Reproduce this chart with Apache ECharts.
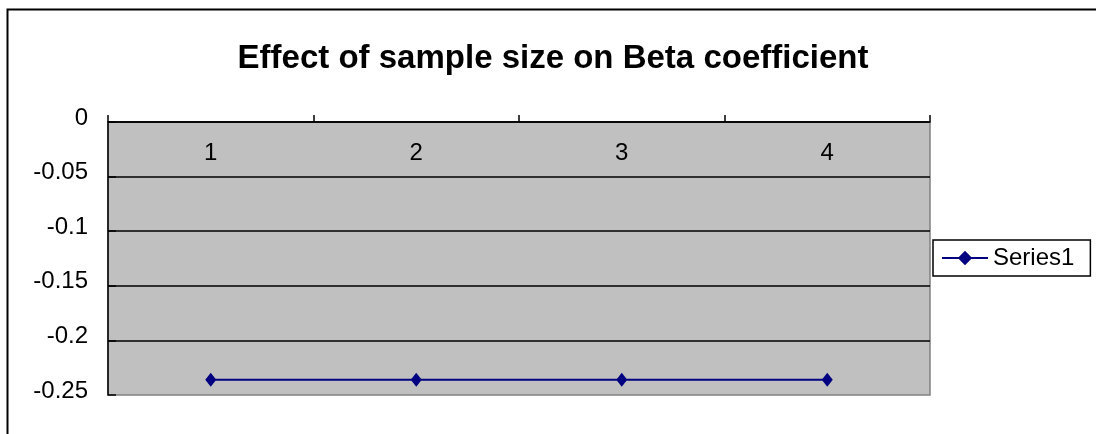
<!DOCTYPE html>
<html>
<head>
<meta charset="utf-8">
<script src="https://cdn.jsdelivr.net/npm/echarts@6/dist/echarts.min.js"></script>
<style>
  html, body { margin: 0; padding: 0; background: #fff; }
  #chart { width: 1096px; height: 434px; }
</style>
</head>
<body>
<div id="chart"></div>
<script>
// chart data
var categories = ['1', '2', '3', '4'];
var series1 = [-0.236, -0.236, -0.236, -0.236];
var seriesName = 'Series1';
var titleText = 'Effect of sample size on Beta coefficient';

var chart = echarts.init(document.getElementById('chart'));
var font = 'Liberation Sans, Arial, sans-serif';

chart.setOption({
  animation: false,
  title: {
    text: titleText,
    left: 548, top: 37, textAlign: 'center',
    textStyle: { fontFamily: font, fontSize: 33, fontWeight: 'bold', color: '#000' }
  },
  legend: {
    left: 933, top: 240,
    data: [seriesName],
    borderColor: '#000', borderWidth: 1.5,
    padding: [6, 16, 6, 8],
    itemWidth: 46, itemHeight: 18, itemGap: 4,
    textStyle: { fontFamily: font, fontSize: 24, color: '#000' }
  },
  grid: {
    left: 108, top: 122, width: 822, height: 273,
    show: true, backgroundColor: '#C0C0C0', borderColor: '#808080', borderWidth: 1.5
  },
  xAxis: {
    type: 'category', position: 'top', data: categories, boundaryGap: true,
    axisLine: { show: true, onZero: false, lineStyle: { color: '#000', width: 1.5 } },
    axisTick: { show: true, inside: false, length: 7, lineStyle: { color: '#000', width: 1.5 } },
    axisLabel: { inside: true, margin: 19, fontFamily: font, fontSize: 24, color: '#000' }
  },
  yAxis: {
    type: 'value', min: -0.25, max: 0, interval: 0.05,
    axisLine: { show: true, lineStyle: { color: '#000', width: 1.5 } },
    axisTick: { show: true, inside: true, length: 8, lineStyle: { color: '#000', width: 1.5 } },
    splitLine: { show: true, showMinLine: false, lineStyle: { color: '#000', width: 1.5 } },
    axisLabel: {
      margin: 20, verticalAlign: 'bottom', lineHeight: 8,
      fontFamily: font, fontSize: 24, color: '#000'
    }
  },
  series: [{
    name: seriesName, type: 'line', data: series1,
    symbol: 'diamond', symbolSize: [11, 14],
    itemStyle: { color: '#000080' },
    lineStyle: { color: '#000080', width: 2 }
  }],
  graphic: [{
    type: 'rect', silent: true, z: 100,
    shape: { x: 7.5, y: 9.5, width: 1200, height: 600 },
    style: { fill: 'none', stroke: '#000', lineWidth: 2 }
  }]
});
</script>
</body>
</html>
